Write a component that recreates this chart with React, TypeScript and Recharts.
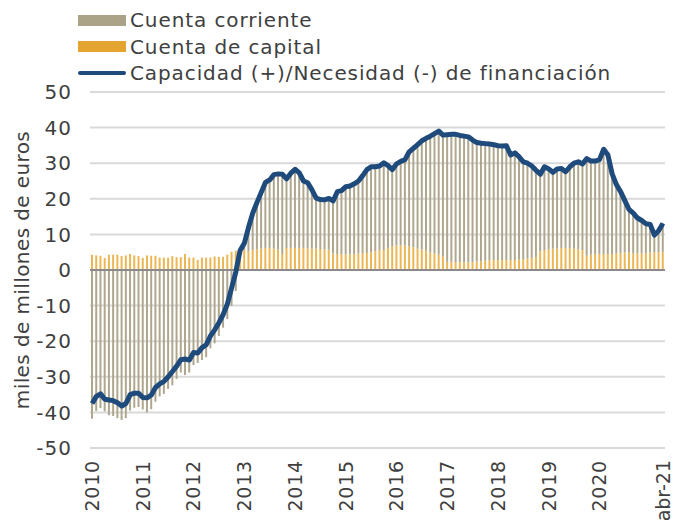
import { ComposedChart, Bar, Line, XAxis, YAxis, CartesianGrid, ReferenceLine, Label } from 'recharts';

const years = ['2010', '2011', '2012', '2013', '2014', '2015', '2016', '2017', '2018', '2019', '2020', '2021'];
const monthNames = ['ene', 'feb', 'mar', 'abr', 'may', 'jun', 'jul', 'ago', 'sep', 'oct', 'nov', 'dic'];
const xTickLabels = ['2010', '2011', '2012', '2013', '2014', '2015', '2016', '2017', '2018', '2019', '2020', 'abr-21'];
const yTicks = [-50, -40, -30, -20, -10, 0, 10, 20, 30, 40, 50];

// miles de millones de euros, acumulado 12 meses, ene-2010 .. abr-2021
const corriente = [
  -41.8, -39.6, -38.8, -39.7, -40.8, -41.0, -41.6, -42.1, -41.6, -39.5, -38.7, -38.5,
  -39.2, -40.0, -39.1, -37.0, -35.5, -34.8, -33.4, -32.4, -30.6, -28.8, -29.5, -28.8,
  -26.7, -26.1, -25.3, -24.5, -22.0, -20.6, -18.5, -16.2, -13.8, -10.1, -5.9, -0.1,
  1.9, 6.8, 10.4, 13.2, 15.8, 18.4, 19.1, 20.8, 21.2, 22.4, 19.4, 21.0,
  22.1, 21.1, 18.8, 18.4, 16.5, 14.2, 13.9, 13.9, 14.4, 14.8, 17.5, 17.8,
  19.0, 19.2, 19.7, 20.4, 21.8, 23.4, 24.0, 23.7, 23.6, 24.5, 23.1, 21.5,
  22.9, 23.6, 24.1, 26.5, 27.8, 29.2, 30.5, 31.6, 32.7, 33.6, 34.7, 34.0,
  35.7, 35.8, 35.9, 35.6, 35.4, 35.2, 34.3, 33.4, 33.2, 32.9, 32.6, 32.4,
  32.1, 32.0, 32.1, 29.5, 30.1, 28.8, 27.4, 26.8, 25.8, 24.4, 21.7, 23.4,
  22.6, 21.4, 22.4, 22.3, 21.4, 22.8, 24.0, 24.6, 24.2, 27.3, 26.3, 26.1,
  26.5, 29.4, 27.8, 22.5, 19.3, 17.3, 14.6, 12.1, 11.3, 9.9, 9.2, 8.3,
  7.9, 4.8, 6.0, 8.0,
];

const capital = [
  4.3, 4.1, 4.0, 3.4, 4.3, 4.3, 4.3, 3.9, 4.1, 4.5, 4.1, 3.9,
  3.4, 4.1, 4.0, 4.0, 3.5, 3.5, 3.4, 3.9, 3.6, 3.6, 4.5, 3.5,
  3.5, 2.8, 3.5, 3.5, 3.5, 3.8, 3.7, 3.7, 4.3, 5.1, 5.4, 5.6,
  5.6, 5.2, 5.6, 5.8, 6.0, 6.2, 6.2, 6.0, 5.8, 4.5, 6.2, 6.2,
  6.2, 6.2, 6.2, 6.1, 6.0, 6.0, 5.9, 5.8, 5.7, 4.6, 4.5, 4.5,
  4.4, 4.4, 4.5, 4.6, 4.7, 4.8, 5.0, 5.3, 5.6, 5.6, 6.2, 6.7,
  6.9, 6.9, 6.9, 6.7, 6.4, 6.0, 5.8, 5.4, 4.9, 4.7, 4.3, 3.9,
  2.3, 2.3, 2.2, 2.2, 2.2, 2.2, 2.2, 2.4, 2.4, 2.6, 2.8, 2.8,
  2.8, 2.8, 2.8, 2.8, 2.8, 3.0, 3.0, 3.2, 3.4, 3.6, 5.2, 5.6,
  5.8, 6.0, 6.0, 6.2, 6.2, 6.2, 6.0, 5.8, 5.6, 4.0, 4.3, 4.5,
  4.5, 4.5, 4.5, 4.5, 4.7, 4.7, 4.9, 4.9, 4.7, 4.7, 4.7, 4.7,
  4.9, 5.0, 5.0, 5.1,
];

const capacidad = [
  -37.5, -35.5, -34.8, -36.3, -36.5, -36.7, -37.3, -38.2, -37.5, -35.0, -34.6, -34.6,
  -35.8, -35.9, -35.1, -33.0, -32.0, -31.3, -30.0, -28.5, -27.0, -25.2, -25.0, -25.3,
  -23.2, -23.3, -21.8, -21.0, -18.5, -16.8, -14.8, -12.5, -9.5, -5.0, -0.5, 5.5,
  7.5, 12.0, 16.0, 19.0, 21.8, 24.6, 25.3, 26.8, 27.0, 26.9, 25.6, 27.2,
  28.3, 27.3, 25.0, 24.5, 22.5, 20.2, 19.8, 19.7, 20.1, 19.4, 22.0, 22.3,
  23.4, 23.6, 24.2, 25.0, 26.5, 28.2, 29.0, 29.0, 29.2, 30.1, 29.3, 28.2,
  29.8, 30.5, 31.0, 33.2, 34.2, 35.2, 36.3, 37.0, 37.6, 38.3, 39.0, 37.9,
  38.0, 38.1, 38.1, 37.8, 37.6, 37.4, 36.5, 35.8, 35.6, 35.5, 35.4, 35.2,
  34.9, 34.8, 34.9, 32.3, 32.9, 31.8, 30.4, 30.0, 29.2, 28.0, 26.9, 29.0,
  28.4, 27.4, 28.4, 28.5, 27.6, 29.0, 30.0, 30.4, 29.8, 31.3, 30.6, 30.6,
  31.0, 33.9, 32.3, 27.0, 24.0, 22.0, 19.5, 17.0, 16.0, 14.6, 13.9, 13.0,
  12.8, 9.8, 11.0, 13.1,
];

const FONT = '"DejaVu Sans", sans-serif';
const TEXT = '#404040';

const data = capacidad.map((v, i) => ({
  mes: `${monthNames[i % 12]}-${years[Math.floor(i / 12)].slice(2)}`,
  corriente: corriente[i],
  capital: capital[i],
  capacidad: v,
}));

// which categories get a label on the x axis
const tickText: Record<string, string> = {};
xTickLabels.forEach((t, k) => {
  const key = k < xTickLabels.length - 1 ? data[k * 12].mes : data[data.length - 1].mes;
  tickText[key] = t;
});

const XTick = (props: any) => {
  const { x, y, payload } = props;
  const t = tickText[payload.value];
  if (!t) return <g />;
  return (
    <text x={x} y={y} dy="0.36em" textAnchor="end" transform={`rotate(-90 ${x} ${y})`}
      fontSize={19} letterSpacing={t.length > 4 ? 0 : 0.8} fontFamily={FONT} fill={TEXT}>
      {t}
    </text>
  );
};

const legendItems = [
  { name: 'Cuenta corriente', color: '#aaa388', kind: 'bar' },
  { name: 'Cuenta de capital', color: '#e3a530', kind: 'bar' },
  { name: 'Capacidad (+)/Necesidad (-) de financiación', color: '#1f4a7c', kind: 'line' },
];

export default function App() {
  return (
    <div style={{ position: 'relative', width: 688, height: 524, background: '#fff', fontFamily: FONT }}>
      <style>{'body{margin:0}'}</style>
      <div style={{ position: 'absolute', left: 78, top: 7, zIndex: 2 }}>
        {legendItems.map((it) => (
          <div key={it.name} style={{ display: 'flex', alignItems: 'center', height: 26.5 }}>
            <div style={{ width: 48, height: it.kind === 'bar' ? 11 : 4, background: it.color, borderRadius: it.kind === 'bar' ? 0 : 2 }} />
            <span style={{ marginLeft: 4, fontSize: 20, letterSpacing: 0.9, color: TEXT, whiteSpace: 'nowrap' }}>{it.name}</span>
          </div>
        ))}
      </div>
      <ComposedChart width={688} height={524} data={data} stackOffset="sign"
        margin={{ top: 92, right: 23, bottom: 0, left: 0 }}>
        <CartesianGrid vertical={false} stroke="#d9d9d9" strokeWidth={2} />
        <XAxis dataKey="mes" interval={0} axisLine={false} tickLine={false} tickSize={0} tickMargin={12}
          height={76} tick={<XTick />} />
        <YAxis domain={[-50, 50]} ticks={yTicks} interval={0} axisLine={false} tickLine={false} tickSize={0}
          tickMargin={18} width={90} tick={{ fontSize: 20, letterSpacing: 1, fontFamily: FONT, fill: TEXT }}>
          <Label content={(p: any) => {
            const vb = p.viewBox;
            const cx = vb.x + 22;
            const cy = vb.y + vb.height / 2;
            return (
              <text x={cx} y={cy} dy="0.36em" textAnchor="middle" transform={`rotate(-90 ${cx} ${cy})`}
                fontSize={20} letterSpacing={0.4} fontFamily={FONT} fill={TEXT}>
                miles de millones de euros
              </text>
            );
          }} />
        </YAxis>
        <Bar dataKey="capital" stackId="a" fill="#ebb653" barSize={2} isAnimationActive={false} />
        <Bar dataKey="corriente" stackId="a" fill="#aea78e" barSize={2} isAnimationActive={false} />
        <ReferenceLine y={0} stroke="#8a8a8a" strokeWidth={2} />
        <Line dataKey="capacidad" type="linear" stroke="#1f4a7c" strokeWidth={5} dot={false}
          strokeLinejoin="round" isAnimationActive={false} />
      </ComposedChart>
    </div>
  );
}
